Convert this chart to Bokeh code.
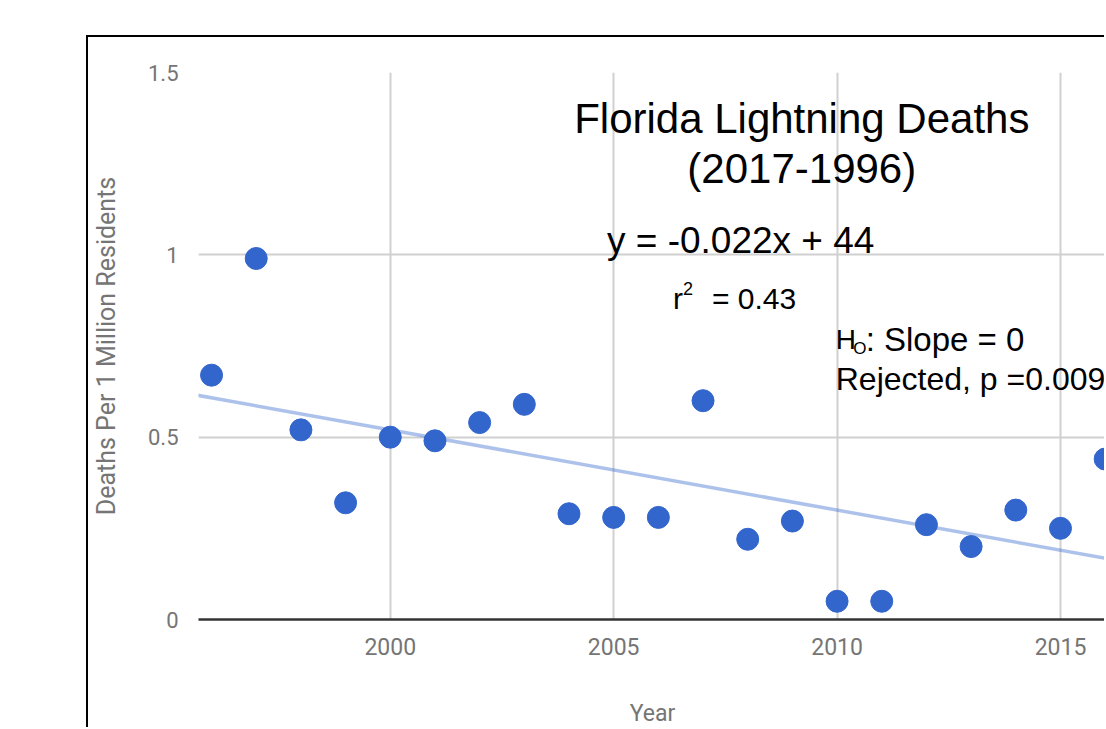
from bokeh.plotting import figure
from bokeh.models import ColumnDataSource, Label, FixedTicker, Range1d, Slope
from bokeh.embed import file_html
from bokeh.resources import INLINE

# ---- data ----
years = [1996, 1997, 1998, 1999, 2000, 2001, 2002, 2003, 2004, 2005, 2006,
         2007, 2008, 2009, 2010, 2011, 2012, 2013, 2014, 2015, 2016]
deaths = [0.67, 0.99, 0.52, 0.32, 0.50, 0.49, 0.54, 0.59, 0.29, 0.28, 0.28,
          0.60, 0.22, 0.27, 0.05, 0.05, 0.26, 0.20, 0.30, 0.25, 0.44]
trend_slope = -0.022
trend_intercept = 44.52
x_ticks = [2000, 2005, 2010, 2015]
x_tick_labels = ["2000", "2005", "2010", "2015"]
y_ticks = [0, 0.5, 1, 1.5]
y_tick_labels = ["0", "0.5", "1", "1.5"]

title_lines = ["Florida Lightning Deaths", "(2017-1996)"]
equation_text = "y = -0.022x + 44"
r2_parts = ["r", "2", "= 0.43"]
h0_parts = ["H", "O", ": Slope = 0"]
rejected_text = "Rejected, p =0.0090"
x_title = "Year"
y_title = "Deaths Per 1 Million Residents"

TICK_FONT = "Roboto"
ANNOT_FONT = "Liberation Sans"
GREY = "#757575"

p = figure(width=1018, height=692, output_backend="svg", toolbar_location=None,
           x_range=Range1d(1995.708, 2016.03), y_range=Range1d(0, 1.5),
           min_border_left=109, min_border_right=0, min_border_top=35,
           min_border_bottom=109)
p.margin = (35, 0, 0, 86)
p.styles = {"border-left": "2px solid #000000", "border-top": "2px solid #000000"}
p.outline_line_color = None
p.background_fill_color = "white"
p.border_fill_color = "white"

# grid
p.xgrid.ticker = FixedTicker(ticks=x_ticks)
p.ygrid.ticker = FixedTicker(ticks=y_ticks)
for g in (p.xgrid, p.ygrid):
    g.grid_line_color = "#d0d0d0"
    g.grid_line_width = 2

# axes
p.xaxis.ticker = FixedTicker(ticks=x_ticks)
p.yaxis.ticker = FixedTicker(ticks=y_ticks)
p.xaxis.major_label_overrides = dict(zip(x_ticks, x_tick_labels))
p.yaxis.major_label_overrides = dict(zip(y_ticks, y_tick_labels))
for ax in (p.xaxis, p.yaxis):
    ax.major_tick_line_color = None
    ax.minor_tick_line_color = None
    ax.major_label_text_font = TICK_FONT
    ax.major_label_text_color = GREY
    ax.axis_label_text_font = TICK_FONT
    ax.axis_label_text_color = GREY
    ax.axis_label_text_font_style = "normal"
p.xaxis.major_label_text_font_size = "23px"
p.yaxis.major_label_text_font_size = "22px"
p.xaxis.axis_label_text_font_size = "23px"
p.yaxis.axis_label_text_font_size = "25px"
p.xaxis.major_label_standoff = 12
p.yaxis.major_label_standoff = 14
p.xaxis.axis_label = x_title
p.yaxis.axis_label = y_title
p.xaxis.axis_line_color = "#333333"
p.xaxis.axis_line_width = 2.5
p.yaxis.axis_line_color = None
p.xaxis.axis_label_standoff = 42
p.yaxis.axis_label_standoff = 24

# trend line
p.add_layout(Slope(gradient=trend_slope, y_intercept=trend_intercept,
                   line_color="#3366cc", line_alpha=0.4, line_width=3.5))

# points
src = ColumnDataSource(dict(year=years, deaths=deaths))
p.scatter("year", "deaths", source=src, size=22, fill_color="#3366cc",
          line_color="#3366cc")

# annotations (anchored at the vertical middle of each line)
def lab(x, y, text, size, align="left"):
    p.add_layout(Label(x=x, y=y, text=text, text_font=ANNOT_FONT,
                       text_font_size=size, text_color="#000000",
                       text_align=align, text_baseline="middle"))

lab(2009.21, 1.374, title_lines[0], "42px", "center")
lab(2009.21, 1.237, title_lines[1], "42px", "center")
lab(2004.85, 1.040, equation_text, "37px")
lab(2006.33, 0.879, r2_parts[0], "30px")
lab(2006.55, 0.908, r2_parts[1], "18px")
lab(2007.20, 0.879, r2_parts[2], "30px")
lab(2009.97, 0.769, h0_parts[0], "28px")
lab(2010.36, 0.742, h0_parts[1], "17px")
lab(2010.64, 0.769, h0_parts[2], "33px")
lab(2009.97, 0.660, rejected_text, "32px")

open("out.html", "w").write(file_html(p, INLINE))
